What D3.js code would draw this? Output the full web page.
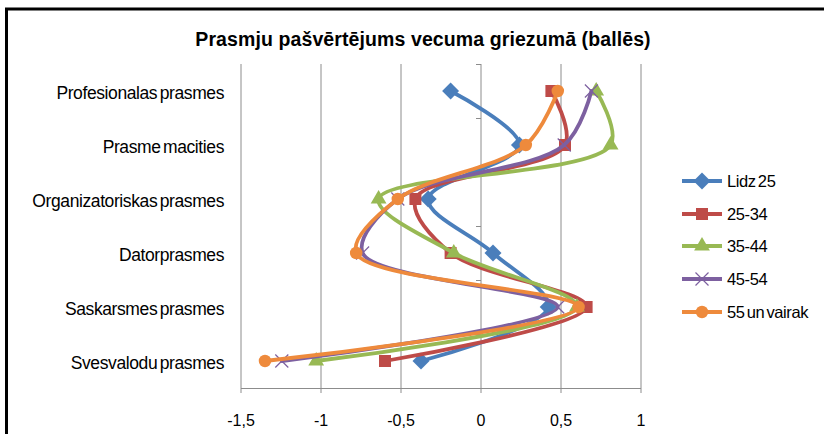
<!DOCTYPE html>
<html>
<head>
<meta charset="utf-8">
<script src="https://cdn.jsdelivr.net/npm/d3@7"></script>
<style>
  body { margin:0; background:#fff; }
  svg { display:block; font-family:"Liberation Sans", Arial, sans-serif; }
</style>
</head>
<body>
<div id="chart"></div>
<script>
// categories, top to bottom
const categories = ['Profesionalas prasmes','Prasme macities','Organizatoriskas prasmes','Datorprasmes','Saskarsmes prasmes','Svesvalodu prasmes'];
const seriesNames = ['Lidz 25','25-34','35-44','45-54','55 un vairak'];
const lidz25 = [-0.19, 0.24, -0.33, 0.075, 0.42, -0.375];
const age2534 = [0.44, 0.525, -0.41, -0.19, 0.66, -0.60];
const age3544 = [0.72, 0.81, -0.64, -0.17, 0.60, -1.03];
const age4554 = [0.69, 0.52, -0.52, -0.74, 0.48, -1.245];
const age55 = [0.48, 0.28, -0.52, -0.78, 0.61, -1.35];
const xTicks = [-1.5, -1, -0.5, 0, 0.5, 1];

const colors = ['#4A7EBB','#BE4B48','#98B954','#7D60A0','#EE8A3C'];
const markers = ['diamond','square','triangle','x','circle'];
const allSeries = [lidz25, age2534, age3544, age4554, age55];

const W = 824, H = 434;
const svg = d3.select('#chart').append('svg')
	.attr('width', W)
	.attr('height', H);

//frame
svg.append('rect')
	.attr('x', 6.5).attr('y', 9)
	.attr('width', W + 10).attr('height', H + 10)
	.attr('fill', 'none')
	.attr('stroke', '#000')
	.attr('stroke-width', 3);

//title
svg.append('text')
	.attr('x', 423).attr('y', 46)
	.attr('text-anchor', 'middle')
	.attr('font-weight', 'bold')
	.attr('font-size', 19.5)
	.attr('letter-spacing', 0.1)
	.text('Prasmju pašvērtējums vecuma  griezumā (ballēs)');

//scales
const x = d3.scaleLinear().domain([-1.5, 1]).range([241, 641]);
const y = d3.scaleBand().domain(categories).range([64, 388]);
const yc = d => y(d) + y.bandwidth() / 2;

//grid
svg.append('g').selectAll('line')
	.data(xTicks)
	.join('line')
	.attr('x1', d => x(d)).attr('x2', d => x(d))
	.attr('y1', 64).attr('y2', 393)
	.attr('stroke', '#8c8c8c')
	.attr('stroke-width', 1);

//x axis line
svg.append('line')
	.attr('x1', x(-1.5)).attr('x2', x(1))
	.attr('y1', 388.5).attr('y2', 388.5)
	.attr('stroke', '#8c8c8c');

//x tick labels
svg.append('g').selectAll('text')
	.data(xTicks)
	.join('text')
	.attr('x', d => x(d))
	.attr('y', 426)
	.attr('text-anchor', 'middle')
	.attr('font-size', 16)
	.text(d => String(d).replace('.', ','));

//y axis at zero with band ticks
const bounds = categories.map(c => y(c)).concat([y.range()[1]]);
svg.append('g').selectAll('line')
	.data(bounds)
	.join('line')
	.attr('x1', x(0) - 5).attr('x2', x(0))
	.attr('y1', d => d + 0.5).attr('y2', d => d + 0.5)
	.attr('stroke', '#8c8c8c');

//category labels
svg.append('g').selectAll('text')
	.data(categories)
	.join('text')
	.attr('x', 224)
	.attr('y', d => yc(d) + 8)
	.attr('text-anchor', 'end')
	.attr('font-size', 17.5)
	.attr('letter-spacing', -0.4)
	.attr('word-spacing', -2)
	.text(d => d);

function markerPath(type, size){
	if(type === 'diamond') return d3.symbol(d3.symbolSquare, size * size)();
	if(type === 'square') return d3.symbol(d3.symbolSquare, size * size)();
	if(type === 'triangle') return d3.symbol(d3.symbolTriangle, size * size * 0.75)();
	if(type === 'circle') return d3.symbol(d3.symbolCircle, size * size * 0.85)();
	const s = size / 2, p = d3.path();
	p.moveTo(-s, -s); p.lineTo(s, s); p.moveTo(-s, s); p.lineTo(s, -s);
	return p.toString();
}

function drawMarker(g, type, color, cx, cy){
	const m = g.append('path')
		.attr('d', markerPath(type, type === 'x' ? 13 : 12))
		.attr('transform', `translate(${cx},${cy})` + (type === 'diamond' ? ' rotate(45)' : ''));
	if(type === 'x'){
		m.attr('fill', 'none').attr('stroke', color).attr('stroke-width', 1.2);
	}else{
		m.attr('fill', color);
	}
}

const line = d3.line()
	.x(d => x(d.v))
	.y(d => yc(d.c))
	.curve(d3.curveCatmullRom.alpha(0.5));

const plot = svg.append('g');
allSeries.forEach((vals, i) => {
	const pts = vals.map((v, j) => ({v: v, c: categories[j]}));
	const g = plot.append('g');
	g.append('path')
		.attr('d', line(pts))
		.attr('fill', 'none')
		.attr('stroke', colors[i])
		.attr('stroke-width', 3.8)
		.attr('stroke-linecap', 'round');
	pts.forEach(p => drawMarker(g, markers[i], colors[i], x(p.v), yc(p.c)));
});

//legend
const legendY = [181, 214, 246, 279, 312];
const legend = svg.append('g');
seriesNames.forEach((name, i) => {
	const ly = legendY[i];
	legend.append('line')
		.attr('x1', 682).attr('x2', 722)
		.attr('y1', ly).attr('y2', ly)
		.attr('stroke', colors[i])
		.attr('stroke-width', 3.8);
	drawMarker(legend, markers[i], colors[i], 702, ly);
	legend.append('text')
		.attr('x', 727).attr('y', ly + 6)
		.attr('font-size', 16.5)
		.attr('letter-spacing', -0.4)
		.attr('word-spacing', -2)
		.text(name);
});
</script>
</body>
</html>
